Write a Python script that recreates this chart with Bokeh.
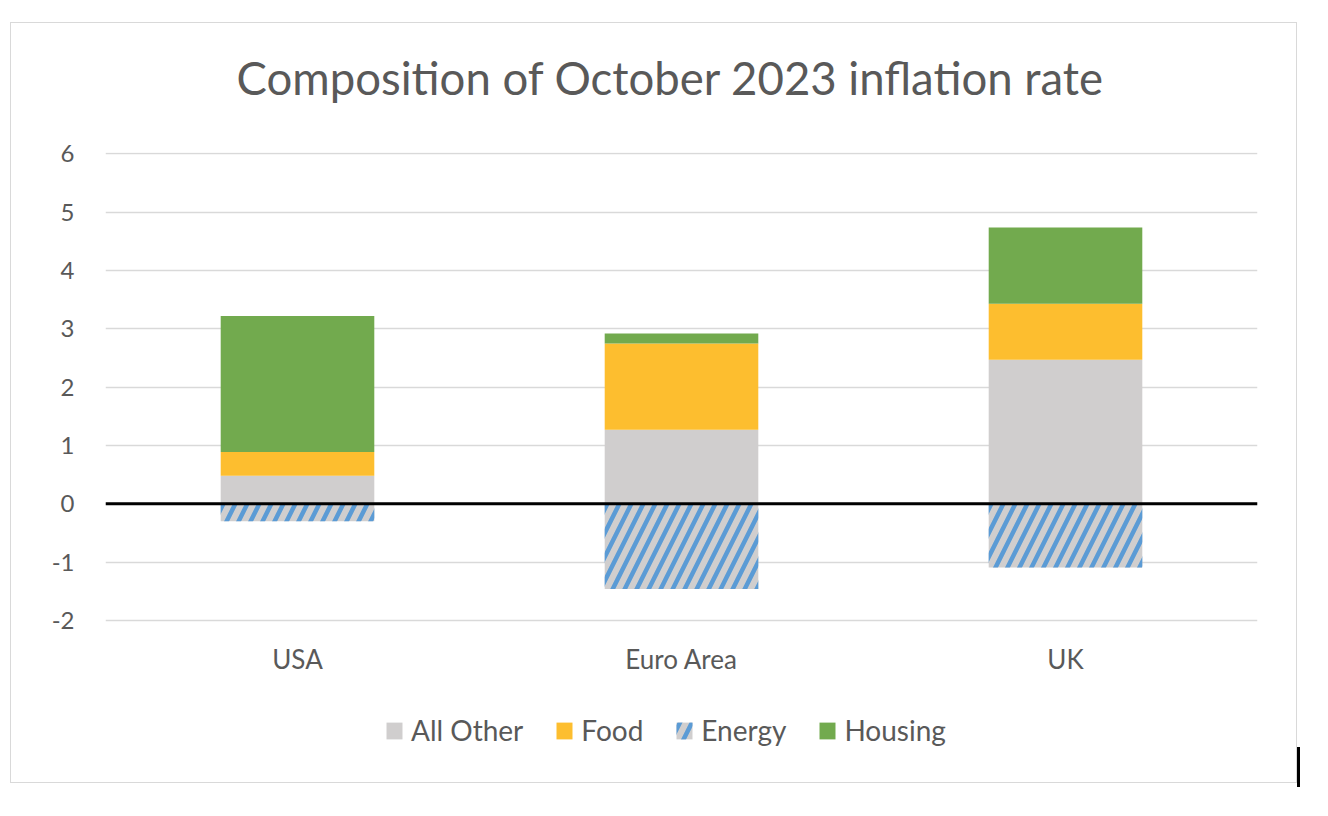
from bokeh.plotting import figure
from bokeh.models import FactorRange, Range1d, Legend, LegendItem, Span, ColumnDataSource, InlineStyleSheet
from bokeh.embed import file_html
from bokeh.resources import INLINE

countries = ["USA", "Euro Area", "UK"]
all_other = [0.48, 1.27, 2.47]
food = [0.41, 1.48, 0.96]
housing = [2.33, 0.17, 1.31]
energy = [-0.30, -1.46, -1.09]
y_ticks = [-2, -1, 0, 1, 2, 3, 4, 5, 6]
title_text = "Composition of October 2023 inflation rate"

GRAY = "#D0CECE"
YELLOW = "#FDBE2F"
GREEN = "#72AA4E"
BLUE = "#5B9BD5"
TEXT = "#595959"
FONT = "Lato"

src = ColumnDataSource(dict(country=countries, all_other=all_other, food=food,
                            housing=housing, energy=energy))

# frame: value 6 -> y~151.5 px, value -2 -> y~619.5 px; frame extended down to leave room for the legend
TOP6, BOTTOM2 = 151.5, 619.5
PX_PER_UNIT = (BOTTOM2 - TOP6) / 8.0
FRAME_TOP, FRAME_BOTTOM = 150, 760
y_end = 6 + (TOP6 - FRAME_TOP) / PX_PER_UNIT
y_start = -2 - (FRAME_BOTTOM - BOTTOM2) / PX_PER_UNIT

p = figure(x_range=FactorRange(*countries, range_padding=0), y_range=Range1d(y_start, y_end),
           width=1328, height=816, output_backend="svg", toolbar_location=None,
           min_border_left=105, min_border_right=71, min_border_top=FRAME_TOP,
           min_border_bottom=816 - FRAME_BOTTOM)
p.stylesheets = [InlineStyleSheet(css="""
:host::after { content: ""; position: absolute; left: 10px; top: 22px; width: 1287px; height: 761px;
  box-sizing: border-box; border: 1.5px solid #D9D9D9; pointer-events: none; z-index: 5; }
:host::before { content: ""; position: absolute; left: 1297px; top: 747px; width: 3px; height: 40px;
  background: #000000; pointer-events: none; z-index: 5; }
""")]

stack = p.vbar_stack(["all_other", "food", "housing"], x="country", width=0.4,
                     color=[GRAY, YELLOW, GREEN], line_color=None, source=src)
r_energy = p.vbar(x="country", top=0, bottom="energy", width=0.4, source=src,
                  fill_color=GRAY, line_color=None, hatch_pattern="/",
                  hatch_color=BLUE, hatch_scale=24, hatch_weight=4.5)

p.add_layout(Span(location=0, dimension="width", line_color="black", line_width=3))

p.title.text = title_text
p.title.align = "left"
p.title.offset = 131
p.title.text_font = FONT
p.title.text_font_size = "45.5px"
p.title.text_font_style = "normal"
p.title.text_color = TEXT
p.title.standoff = 95

p.outline_line_color = None
p.xgrid.grid_line_color = None
p.ygrid.grid_line_color = "#D9D9D9"
p.ygrid.grid_line_width = 1.5
p.yaxis.ticker = y_ticks
p.yaxis.major_label_overrides = {t: str(t) for t in y_ticks}
for ax in (p.xaxis[0], p.yaxis[0]):
    ax.axis_line_color = None
    ax.major_tick_line_color = None
    ax.minor_tick_line_color = None
    ax.major_label_text_font = FONT
    ax.major_label_text_color = TEXT
p.yaxis.major_label_text_font_size = "24px"
p.xaxis.major_label_text_font_size = "26px"
p.yaxis.major_label_standoff = 25
p.xaxis.major_label_standoff = 17
p.xaxis.fixed_location = y_ticks[0]

legend = Legend(items=[LegendItem(label="All Other", renderers=[stack[0]]),
                       LegendItem(label="Food", renderers=[stack[1]]),
                       LegendItem(label="Energy", renderers=[r_energy]),
                       LegendItem(label="Housing", renderers=[stack[2]])],
                orientation="horizontal", location=(279, 13),
                border_line_color=None, background_fill_alpha=0,
                label_text_font=FONT, label_text_font_size="28px", label_text_color=TEXT,
                glyph_width=20, glyph_height=21, label_standoff=7, spacing=31,
                padding=0, margin=0, label_height=21)
p.add_layout(legend)

open("out.html", "w").write(file_html(p, INLINE))
